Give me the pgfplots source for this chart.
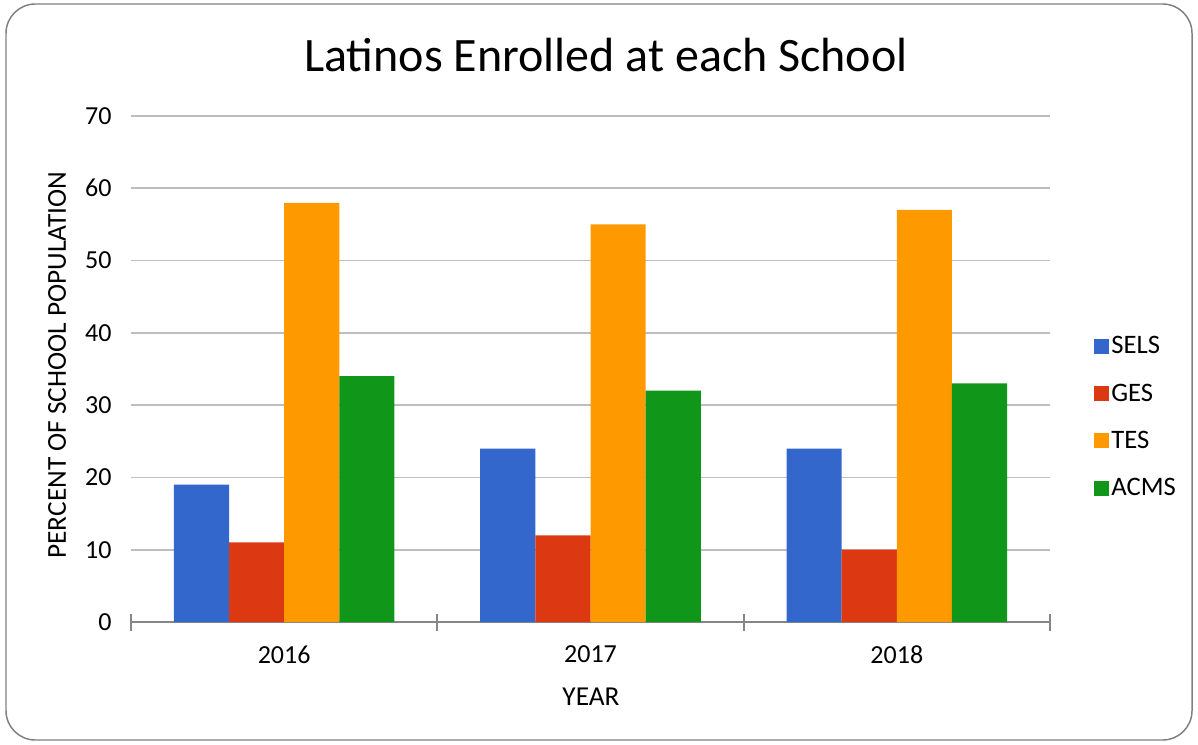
\documentclass[border=0pt]{standalone}
\usepackage{pgfplots}
\pgfplotsset{compat=1.18}
\usepackage{fontspec}
\setmainfont{Carlito}
\definecolor{cSELS}{RGB}{51,103,204}
\definecolor{cGES}{RGB}{220,57,18}
\definecolor{cTES}{RGB}{255,153,0}
\definecolor{cACMS}{RGB}{16,150,24}
\definecolor{gridc}{RGB}{190,190,190}
\definecolor{axc}{RGB}{134,134,134}
\begin{document}
\begin{tikzpicture}[x=0.75pt,y=0.75pt]
\path (0,0) rectangle (1198,744);
\draw[color={rgb,255:red,128;green,128;blue,128}, line width=1.1pt, rounded corners=22pt] (6,4) rectangle (1192,740);
\node[font=\fontsize{36}{40}\selectfont] at (606,689) {Latinos Enrolled at each School};
\node[font=\fontsize{20.5}{24}\selectfont, rotate=90] at (57,379) {PERCENT OF SCHOOL POPULATION};
\node[font=\fontsize{20.5}{24}\selectfont] at (591,47) {YEAR};
\begin{axis}[
  at={(98.25pt,91.5pt)}, anchor=south west,
  scale only axis,
  width=689.25pt, height=379.5pt,
  xmin=-0.5, xmax=2.5, ymin=0, ymax=70,
  ybar=0pt, bar width=0.18,
  axis x line*=bottom, axis y line*=left,
  y axis line style={draw=none},
  x axis line style={axc, line width=1.3pt},
  xtick={0,1,2}, xticklabels={2016,2017,2018},
  major x tick style={draw=none},
  minor xtick={-0.5,0.5,1.5,2.5},
  minor x tick style={draw=axc, line width=1.3pt},
  tick align=center, minor tick length=12.75pt,
  x tick label style={font=\fontsize{19.5}{23}\selectfont, yshift=-12pt},
  ytick={0,10,...,70},
  major y tick style={draw=none},
  ymajorgrids, grid style={gridc, line width=1.2pt},
  y tick label style={font=\fontsize{19.5}{23}\selectfont, xshift=-9pt},
  /pgf/number format/assume math mode=true,
  legend style={draw=none, at={(1.043,0.405)}, anchor=west, font=\fontsize{20}{24}\selectfont, row sep=17pt, legend cell align=left},
  legend image code/.code={\fill[#1] (0pt,-5.6pt) rectangle (11.2pt,5.6pt);},
]
\addplot[fill=cSELS, draw=none] coordinates {(0,19) (1,24) (2,24)};
\addplot[fill=cGES, draw=none] coordinates {(0,11) (1,12) (2,10)};
\addplot[fill=cTES, draw=none] coordinates {(0,58) (1,55) (2,57)};
\addplot[fill=cACMS, draw=none] coordinates {(0,34) (1,32) (2,33)};
\legend{SELS,GES,TES,ACMS}
\end{axis}
\end{tikzpicture}
\end{document}
